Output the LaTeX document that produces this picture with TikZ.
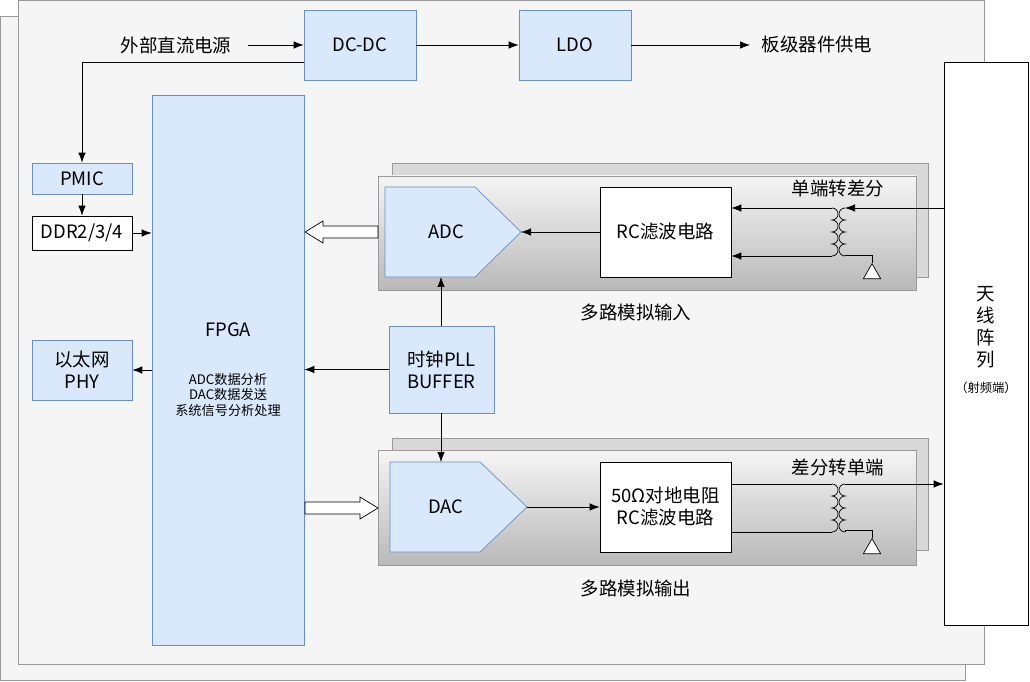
\documentclass[tikz,border=0pt]{standalone}
\usepackage{fontspec}
\setmainfont{Noto Sans CJK SC}
\usetikzlibrary{shapes.geometric,arrows.meta}
\definecolor{blkfill}{HTML}{DAE8FC}
\definecolor{blkline}{HTML}{6C8EBF}

\begin{document}
\begin{tikzpicture}[x=0.02cm,y=-0.02cm,font=\fontsize{10.5}{12.5}\selectfont,
  blk/.style={draw=blkline,fill=blkfill,inner sep=0pt},
  wbox/.style={draw=black,fill=white,inner sep=0pt,align=center},
  panel/.style={draw=gray!80,fill=gray!8},
  grp/.style={draw=gray!80,top color=gray!8,bottom color=gray!55},
  hollow/.style={draw=black,fill=white},
  conn/.style={-{Latex[length=2mm,width=1.5mm]}},
  gnd/.style={isosceles triangle,shape border rotate=-90,draw=black,fill=white,
    isosceles triangle apex angle=60,minimum size=0.3cm,inner sep=0pt}]
\useasboundingbox (0,0) rectangle (1030,682);
% back panels
\draw[panel] (0,16) rectangle (965,680);
\draw[panel] (18,0) rectangle (984,664);
\draw[draw=gray!80,fill=gray!30] (392,163) rectangle (928,277);
\draw[grp] (378,176) rectangle (916,290);
\draw[draw=gray!80,fill=gray!30] (392,438) rectangle (928,550);
\draw[grp] (378,450) rectangle (916,565);

% power
\node (dcdc) [blk,minimum width=2.24cm,minimum height=1.4cm] at (360,45) {DC-DC};
\node (ldo) [blk,minimum width=2.24cm,minimum height=1.4cm] at (575,45) {LDO};
\node (ext) at (176,45) {外部直流电源};
\node (brd) at (817,45) {板级器件供电};
\coordinate (extend) at (248,45);
\coordinate (brdend) at (750,45);
\node (pmic) [blk,minimum width=2cm,minimum height=0.62cm] at (82,178.5) {PMIC};
\node (ddr) [wbox,minimum width=2cm,minimum height=0.68cm] at (82,233) {DDR2/3/4};
\node (phy) [blk,minimum width=2cm,minimum height=1.2cm,align=center] at (82,370) {以太网\\PHY};

% FPGA
\node (fpga) [blk,minimum width=3.04cm,minimum height=11cm] at (228,370) {};
\node (fpgat) at (228,330) {FPGA};
\node (fpgas) [font=\fontsize{7.5}{9}\selectfont,align=center] at (228,395) {ADC数据分析\\DAC数据发送\\系统信号分析处理};

% clock
\node (pll) [blk,minimum width=2.1cm,minimum height=1.74cm,align=center] at (441.5,369.5) {时钟PLL\\BUFFER};

% ADC chain
\draw[blk] (385,187) -- (475,187) -- (521,232) -- (475,277) -- (385,277) -- cycle;
\node (adc) at (446,232) {ADC};
\coordinate (adctip) at (521,232);
\coordinate (adcbot) at (441,277);
\node (rc1) [wbox,minimum width=2.62cm,minimum height=1.8cm] at (665.5,232) {RC滤波电路};
\node (s2d) at (838,188) {单端转差分};
\node (ain) at (636,312) {多路模拟输入};

% DAC chain
\draw[blk] (390,462) -- (480,462) -- (527,507) -- (480,552) -- (390,552) -- cycle;
\node (dac) at (446,507) {DAC};
\coordinate (dactip) at (527,507);
\coordinate (dactop) at (441,462);
\node (rc2) [wbox,minimum width=2.62cm,minimum height=1.8cm] at (665.5,507) {50Ω对地电阻\\RC滤波电路};
\node (d2s) at (838,467) {差分转单端};
\node (aout) at (636,588) {多路模拟输出};

% antenna
\node (ant) [wbox,minimum width=1.68cm,minimum height=11.26cm] at (986,343.5) {};
\node (antt) [align=center] at (986,340) {天\\线\\阵\\列\\[2pt]{\fontsize{7}{8}\selectfont（射频端）}};

% connections
\draw[conn] (extend) -- (dcdc);
\draw[conn] (dcdc) -- (ldo);
\draw[conn] (ldo) -- (brdend);
\draw[conn] (dcdc.west |- 0,62) -| (pmic.north);
\draw[conn] (pmic) -- (ddr);
\draw[conn] (ddr) -- (ddr -| fpga.west);
\draw[conn] (fpga.west |- phy) -- (phy);
\draw[conn] (pll.west) -- (pll.west -| fpga.east);
\draw[conn] (pll.north -| adcbot) -- (adcbot);
\draw[conn] (pll.south -| dactop) -- (dactop);
\draw[conn] (rc1.west) -- (adctip);
\draw[conn] (dactip) -- (rc2.west);
% hollow arrows
\draw[hollow] (378,226) -- (323,226) -- (323,221) -- (305,232) -- (323,243) -- (323,238) -- (378,238) -- cycle;
\draw[hollow] (305,502) -- (360,502) -- (360,497) -- (378,508) -- (360,519) -- (360,514) -- (305,514) -- cycle;

% transformers
\foreach \ya/\yb in {208/255, 484/530}{
  \draw (832,\ya) arc (-90:90:6) arc (-90:90:6) arc (-90:90:6) arc (-90:90:6);
  \draw (845,\ya) arc (-90:-270:6) arc (-90:-270:6) arc (-90:-270:6) arc (-90:-270:6);
  \draw (845,\ya+48) -- (845,\yb) -- (872,\yb) -- (872,\yb+8);
  \node[gnd,anchor=apex,rotate=180] at (872,\yb+8) {};
}
\draw[conn] (ant.west |- 0,208) -- (845,208);
\draw[conn] (832,208) -- (rc1.east |- 0,208);
\draw[conn] (832,256) -- (rc1.east |- 0,256);
\draw (rc2.east |- 0,484) -- (832,484);
\draw (rc2.east |- 0,532) -- (832,532);
\draw[conn] (845,484) -- (ant.west |- 0,484);
\end{tikzpicture}
\end{document}
